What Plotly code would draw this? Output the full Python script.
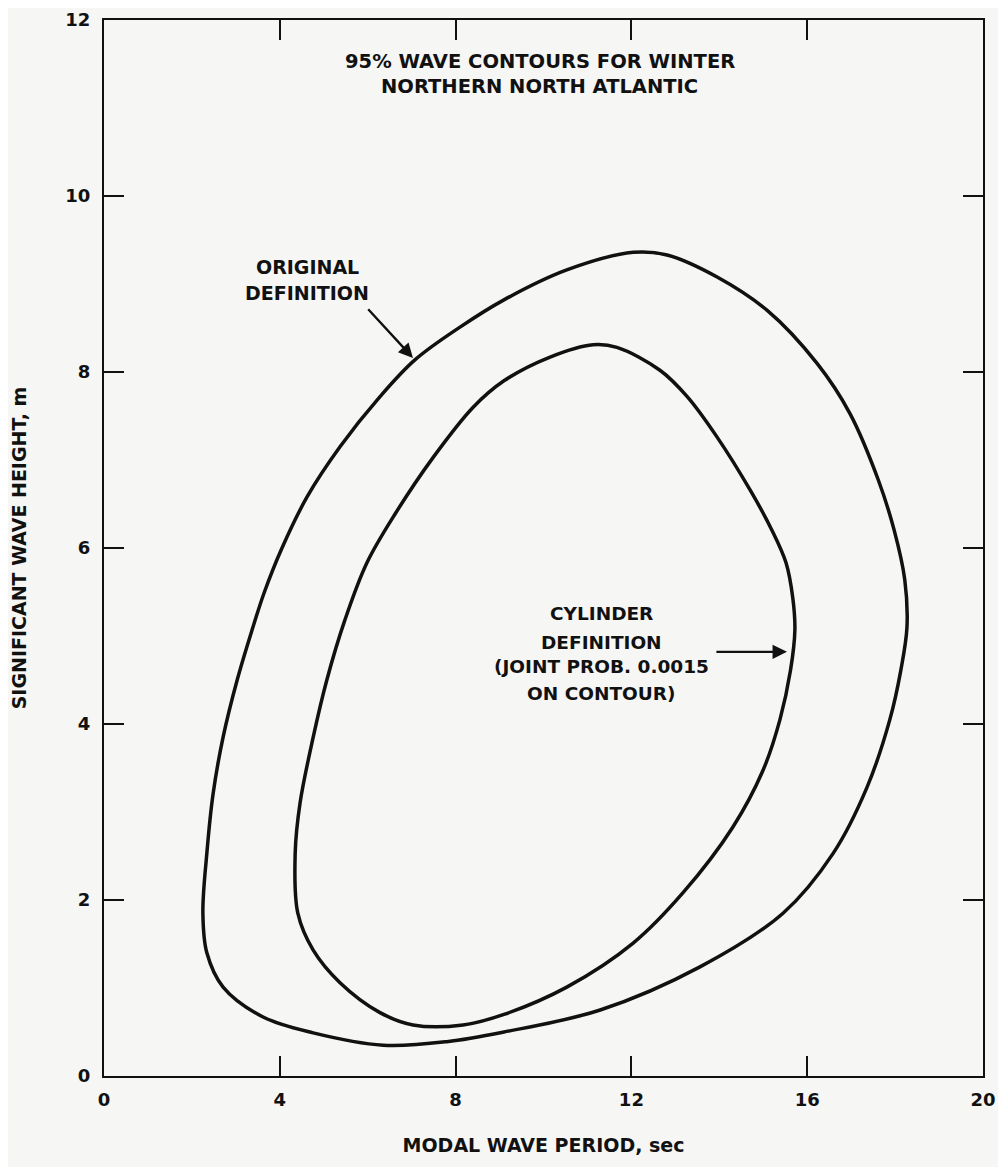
import plotly.graph_objects as go

# Outer contour: "ORIGINAL DEFINITION" (modal period sec, Hs m)
orig_T = [2.25, 2.34, 2.48, 2.71, 3.03, 3.37, 3.65, 4.05, 4.62, 5.37, 6.28, 7.08, 8.10, 9.10,
          10.53, 12.04, 12.81, 13.95, 15.09, 16.22, 16.97, 17.62, 17.98, 18.22, 18.27, 18.13,
          17.88, 17.36, 16.59, 15.45, 13.56, 11.29, 9.10, 7.80, 6.35, 4.76, 3.62, 2.71, 2.34, 2.25]
orig_H = [1.85, 2.53, 3.20, 3.85, 4.50, 5.07, 5.50, 6.00, 6.58, 7.15, 7.72, 8.14, 8.51, 8.82,
          9.16, 9.36, 9.33, 9.08, 8.70, 8.10, 7.53, 6.77, 6.20, 5.64, 5.10, 4.61,
          4.05, 3.28, 2.53, 1.85, 1.24, 0.75, 0.50, 0.39, 0.35, 0.49, 0.67, 1.01, 1.40, 1.85]

# Inner contour: "CYLINDER DEFINITION"
cyl_T = [4.35, 4.46, 4.76, 5.07, 5.48, 5.98, 6.64, 7.49, 8.40, 9.10, 10.15, 11.13, 11.67,
         12.65, 13.27, 13.95, 14.70, 15.20, 15.52, 15.67, 15.72, 15.62, 15.38, 15.00, 14.31,
         13.17, 12.04, 10.53, 9.10, 8.17, 7.03, 6.28, 5.37, 4.76, 4.41, 4.35]
cyl_H = [2.53, 3.10, 3.85, 4.50, 5.18, 5.83, 6.40, 7.03, 7.60, 7.90, 8.17, 8.31, 8.28,
         8.02, 7.72, 7.26, 6.66, 6.20, 5.83, 5.44, 5.07, 4.61, 4.05, 3.48, 2.83,
         2.08, 1.51, 1.01, 0.70, 0.58, 0.58, 0.72, 1.06, 1.43, 1.85, 2.53]

x_ticks = [0, 4, 8, 12, 16, 20]
y_ticks = [0, 2, 4, 6, 8, 10, 12]

title_lines = ["95% WAVE CONTOURS FOR WINTER", "NORTHERN NORTH ATLANTIC"]
orig_lines = ["ORIGINAL", "DEFINITION"]
cyl_lines = ["CYLINDER", "DEFINITION", "(JOINT PROB. 0.0015", "ON CONTOUR)"]

FONT = "DejaVu Sans, Liberation Sans, Arial, sans-serif"
BLACK = "#111111"
BG = "#f6f6f4"

fig = go.Figure()
for xs, ys in ((orig_T, orig_H), (cyl_T, cyl_H)):
    fig.add_trace(go.Scatter(x=xs, y=ys, mode="lines",
                             line=dict(color=BLACK, width=3.5, shape="spline", smoothing=1.0),
                             showlegend=False, hoverinfo="skip"))

ann = []
def txt(s, x, y, size=19):
    ann.append(dict(text="<b>%s</b>" % s, x=x, y=y, xref="x", yref="y", showarrow=False,
                    xanchor="center", yanchor="middle",
                    font=dict(family=FONT, size=size, color=BLACK)))

for s, y in zip(title_lines, [11.53, 11.24]):
    txt(s, 9.92, y, size=19.5)
for s, y in zip(orig_lines, [9.19, 8.90]):
    txt(s, 4.62, y)
for s, y in zip(cyl_lines, [5.26, 4.93, 4.65, 4.35]):
    txt(s, 11.31, y, size=18.5)

# arrows
ann.append(dict(x=7.03, y=8.16, ax=5.98, ay=8.73, xref="x", yref="y", axref="x", ayref="y",
                showarrow=True, arrowhead=2, arrowsize=1.2, arrowwidth=2.4, arrowcolor=BLACK, text=""))
ann.append(dict(x=15.54, y=4.82, ax=13.90, ay=4.82, xref="x", yref="y", axref="x", ayref="y",
                showarrow=True, arrowhead=2, arrowsize=1.2, arrowwidth=2.4, arrowcolor=BLACK, text=""))

axis_common = dict(showgrid=False, zeroline=False, showline=True, linecolor=BLACK, linewidth=2.4,
                   mirror="ticks", ticks="inside", ticklen=20, tickwidth=2.4, tickcolor=BLACK,
                   automargin=False,
                   tickfont=dict(family=FONT, size=18, color=BLACK))

fig.update_layout(
    width=998, height=1159,
    margin=dict(l=96, r=23, t=12, b=91),
    paper_bgcolor=BG, plot_bgcolor=BG,
    annotations=ann,
    xaxis=dict(range=[0, 20], tickvals=x_ticks, ticktext=["<b>%d</b>" % v for v in x_ticks],
               title=dict(text="<b>MODAL WAVE PERIOD, sec</b>", standoff=30,
                          font=dict(family=FONT, size=19, color=BLACK)),
               ticklabelstandoff=6, **axis_common),
    yaxis=dict(range=[0, 12], tickvals=y_ticks, ticktext=["<b>%d</b>" % v for v in y_ticks],
               title=dict(text="<b>SIGNIFICANT WAVE HEIGHT, m</b>", standoff=42,
                          font=dict(family=FONT, size=19, color=BLACK)),
               ticklabelstandoff=8, **axis_common),
)

fig.write_html("out.html")
